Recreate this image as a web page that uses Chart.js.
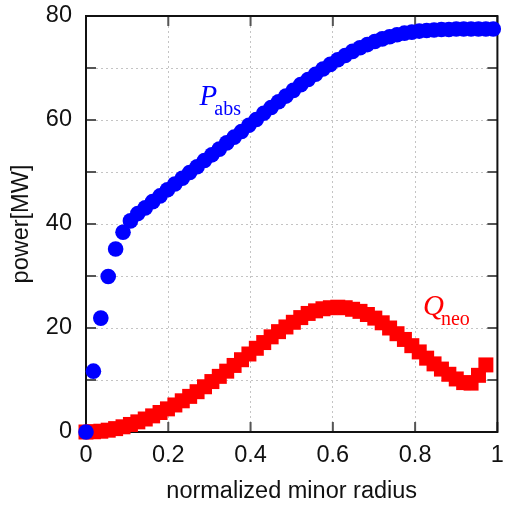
<!DOCTYPE html>
<html>
<head>
<meta charset="utf-8">
<script src="https://cdn.jsdelivr.net/npm/chart.js@4.4.1/dist/chart.umd.min.js"></script>
<style>
  html, body { margin: 0; padding: 0; background: #fff; }
</style>
</head>
<body>
<canvas id="powerChart" width="508" height="506"></canvas>
<script>
// normalized minor radius of each profile point
const radius = [
  0, 0.018, 0.036, 0.054, 0.072, 0.09, 0.108, 0.126, 0.144, 0.162,
  0.18, 0.198, 0.216, 0.234, 0.252, 0.27, 0.288, 0.306, 0.324, 0.342,
  0.36, 0.378, 0.396, 0.414, 0.432, 0.45, 0.468, 0.486, 0.504, 0.522,
  0.54, 0.558, 0.576, 0.594, 0.612, 0.63, 0.648, 0.666, 0.684, 0.702,
  0.72, 0.738, 0.756, 0.774, 0.792, 0.81, 0.828, 0.846, 0.864, 0.882,
  0.9, 0.918, 0.936, 0.954, 0.972, 0.99
];

// absorbed power [MW]
const pAbs = [
  0, 11.7, 21.9, 29.9, 35.2, 38.4, 40.6, 42.0, 43.1, 44.3,
  45.4, 46.6, 47.7, 48.8, 49.9, 51.0, 52.2, 53.3, 54.4, 55.6,
  56.7, 57.8, 59.0, 60.1, 61.3, 62.4, 63.5, 64.6, 65.7, 66.8,
  67.8, 68.8, 69.8, 70.7, 71.6, 72.4, 73.2, 73.9, 74.5, 75.1,
  75.6, 76.0, 76.4, 76.7, 76.9, 77.1, 77.2, 77.3, 77.4, 77.4,
  77.5, 77.5, 77.5, 77.5, 77.5, 77.5
];

// neoclassical loss [MW], one point shorter than pAbs
const qNeo = [
  0, 0.05, 0.15, 0.35, 0.65, 1.0, 1.45, 1.95, 2.5, 3.1,
  3.75, 4.45, 5.2, 6.0, 6.85, 7.75, 8.7, 9.7, 10.7, 11.7,
  12.8, 13.9, 15.0, 16.1, 17.2, 18.3, 19.3, 20.2, 21.1, 22.0,
  22.8, 23.3, 23.7, 23.9, 24.0, 23.9, 23.6, 23.2, 22.6, 21.9,
  21.0, 20.0, 18.9, 17.8, 16.6, 15.4, 14.2, 13.1, 12.1, 11.1,
  10.2, 9.5, 9.4, 10.9, 12.9
];

const xTicks = [0, 0.2, 0.4, 0.6, 0.8, 1];
const yTicks = [0, 20, 40, 60, 80];

const curveLabels = [
  { main: 'P', sub: 'abs', x: 0.276, y: 62.8, color: '#0000ff' },
  { main: 'Q', sub: 'neo', x: 0.819, y: 22.5, color: '#ff0000' }
];

const toPoints = (ys) => ys.map((v, i) => ({ x: radius[i], y: v }));

const sansFont = { family: '"Liberation Sans", Arial, sans-serif', size: 23.5 };

// keep the plot box where it is: no extra room for edge labels
const fixPadding = (s) => {
  s.paddingTop = 0;
  s.paddingBottom = 0;
  s.paddingLeft = 0;
  s.paddingRight = 0;
};

// box round the plot with inward tick marks on all four sides
const frameTicks = {
  id: 'frameTicks',
  beforeDatasetsDraw(chart) {
    const { ctx, chartArea: a, scales: { x, y } } = chart;
    ctx.save();
    ctx.strokeStyle = '#555';
    ctx.lineWidth = 2;
    ctx.beginPath();
    y.ticks.forEach((t) => {
      const py = y.getPixelForValue(t.value);
      ctx.moveTo(a.left, py); ctx.lineTo(a.left + 10, py);
      ctx.moveTo(a.right, py); ctx.lineTo(a.right - 10, py);
    });
    x.ticks.forEach((t) => {
      const px = x.getPixelForValue(t.value);
      ctx.moveTo(px, a.bottom); ctx.lineTo(px, a.bottom - 10);
      ctx.moveTo(px, a.top); ctx.lineTo(px, a.top + 10);
    });
    ctx.stroke();
    ctx.strokeStyle = '#111';
    ctx.strokeRect(a.left, a.top, a.right - a.left, a.bottom - a.top);
    ctx.restore();
  }
};

// P_abs / Q_neo names next to their curves
const curveNames = {
  id: 'curveNames',
  afterDatasetsDraw(chart) {
    const { ctx, scales: { x, y } } = chart;
    ctx.save();
    ctx.textBaseline = 'alphabetic';
    ctx.textAlign = 'left';
    curveLabels.forEach((l) => {
      const px = x.getPixelForValue(l.x);
      const py = y.getPixelForValue(l.y);
      ctx.fillStyle = l.color;
      ctx.font = 'italic 29px "Liberation Serif", "Times New Roman", serif';
      ctx.fillText(l.main, px, py);
      const w = ctx.measureText(l.main).width;
      ctx.font = '20px "Liberation Serif", "Times New Roman", serif';
      ctx.fillText(l.sub, px + w - 3, py + 10);
    });
    ctx.restore();
  }
};

const ctx = document.getElementById('powerChart').getContext('2d');
const chart = new Chart(ctx, {
  type: 'scatter',
  data: {
    datasets: [
      {
        label: 'P_abs',
        data: toPoints(pAbs),
        pointStyle: 'circle',
        pointRadius: 7.8,
        backgroundColor: '#0000ff',
        borderWidth: 0,
        clip: false
      },
      {
        label: 'Q_neo',
        data: toPoints(qNeo),
        pointStyle: 'rect',
        pointRadius: 10.6,
        backgroundColor: '#ff0000',
        borderWidth: 0,
        clip: false
      }
    ]
  },
  options: {
    responsive: false,
    animation: false,
    layout: { padding: { top: 16, right: 7, left: 0, bottom: 0 } },
    plugins: {
      legend: { display: false },
      tooltip: { enabled: false }
    },
    scales: {
      x: {
        type: 'linear',
        min: 0,
        max: 1,
        afterBuildTicks: (s) => { s.ticks = xTicks.map((v) => ({ value: v })); },
        afterFit: (s) => { s.height = 74; fixPadding(s); },
        ticks: {
          padding: 9,
          color: '#111',
          font: sansFont,
          maxRotation: 0,
          callback: (v) => String(+v.toFixed(1))
        },
        grid: { color: '#c4c4c4', lineWidth: 1, drawTicks: false },
        border: { display: false, dash: [2, 3] },
        title: {
          display: true,
          text: 'normalized minor radius',
          color: '#111',
          font: sansFont,
          padding: { top: 0, bottom: 0 }
        }
      },
      y: {
        type: 'linear',
        min: 0,
        max: 80,
        afterBuildTicks: (s) => {
          const out = [];
          for (let v = 0; v <= 80; v += 10) out.push({ value: v });
          s.ticks = out;
        },
        afterFit: (s) => { s.width = 86; fixPadding(s); },
        ticks: {
          padding: 14,
          color: '#111',
          font: sansFont,
          callback: (v) => (yTicks.includes(v) ? String(v) : '')
        },
        grid: { color: '#c4c4c4', lineWidth: 1, drawTicks: false },
        border: { display: false, dash: [2, 3] },
        title: {
          display: true,
          text: 'power[MW]',
          color: '#111',
          font: sansFont,
          padding: { top: 7, bottom: 0 }
        }
      }
    }
  },
  plugins: [frameTicks, curveNames]
});
</script>
</body>
</html>
